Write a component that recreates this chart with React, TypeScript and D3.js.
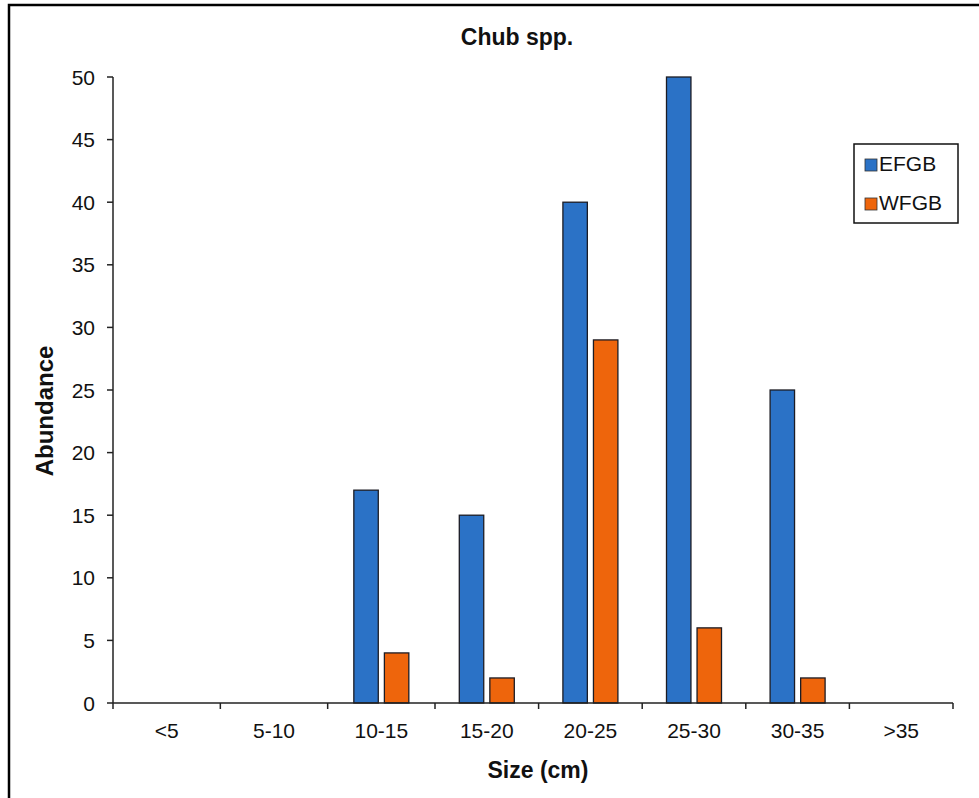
import React from "react";
import * as d3 from "d3";

// Size classes (cm) and abundance counts per bank
const sizeClasses = ["<5", "5-10", "10-15", "15-20", "20-25", "25-30", "30-35", ">35"];
const seriesNames = ["EFGB", "WFGB"];
const efgbCounts = [0, 0, 17, 15, 40, 50, 25, 0];
const wfgbCounts = [0, 0, 4, 2, 29, 6, 2, 0];
const yTicks = [0, 5, 10, 15, 20, 25, 30, 35, 40, 45, 50];

const seriesColors: Record<string, string> = {
  EFGB: "#2b72c6",
  WFGB: "#ee650c",
};

const W = 979;
const H = 798;
const plot = { left: 113, right: 953, top: 77, bottom: 703 };
const FONT = "'Liberation Sans', Arial, sans-serif";

export default function App() {
  // category index -> pixel (class boundaries at integer positions)
  const xIdx = d3.scaleLinear().domain([0, 3, 8]).range([plot.left, 435, plot.right]);
  const center = (i: number) => xIdx(i + 0.5);
  // offset of each series' bar around the class centre
  const x1 = d3.scaleBand<string>().domain(seriesNames).range([-27.5, 27.5]).paddingInner(0.2);
  const y = d3.scaleLinear().domain([0, 50]).range([plot.bottom, plot.top]);

  const rows = sizeClasses.map((c, i) => ({
    cls: c,
    i,
    values: [
      { s: "EFGB", v: efgbCounts[i] },
      { s: "WFGB", v: wfgbCounts[i] },
    ],
  }));

  const boundaries = d3.range(sizeClasses.length + 1).map((i) => xIdx(i));

  return (
    <div style={{ position: "absolute", left: 0, top: 0 }}>
      <svg width={W} height={H} style={{ display: "block", fontFamily: FONT }}>
        <rect x={0} y={0} width={W} height={H} fill="#fff" />
        {/* outer frame */}
        <rect x={9} y={5} width={W + 20} height={H + 20} fill="none" stroke="#000" strokeWidth={2.5} />

        <text x={517} y={45} textAnchor="middle" fontSize={23} fontWeight="bold" fill="#111">
          Chub spp.
        </text>

        {/* bars */}
        {rows.map((r) => (
          <g key={r.cls} transform={`translate(${center(r.i)},0)`}>
            {r.values
              .filter((d) => d.v > 0)
              .map((d) => (
                <rect
                  key={d.s}
                  x={x1(d.s)!}
                  y={y(d.v)}
                  width={x1.bandwidth()}
                  height={y(0) - y(d.v)}
                  fill={seriesColors[d.s]}
                  stroke="#1c1c24"
                  strokeWidth={1.3}
                />
              ))}
          </g>
        ))}

        {/* y axis */}
        <line x1={plot.left} x2={plot.left} y1={plot.top} y2={plot.bottom} stroke="#222" strokeWidth={1.5} />
        {yTicks.map((t) => (
          <g key={t}>
            <line x1={plot.left - 6} x2={plot.left} y1={y(t)} y2={y(t)} stroke="#222" strokeWidth={1.5} />
            <text x={plot.left - 18} y={y(t)} dy="0.36em" textAnchor="end" fontSize={21} fill="#111">
              {t}
            </text>
          </g>
        ))}

        {/* x axis */}
        <line x1={plot.left} x2={plot.right} y1={plot.bottom} y2={plot.bottom} stroke="#222" strokeWidth={1.5} />
        {boundaries.map((b, i) => (
          <line key={i} x1={b} x2={b} y1={plot.bottom} y2={plot.bottom + 6} stroke="#222" strokeWidth={1.5} />
        ))}
        {sizeClasses.map((c, i) => (
          <text key={c} x={center(i)} y={738} textAnchor="middle" fontSize={21} fill="#111">
            {c}
          </text>
        ))}

        <text x={538} y={778} textAnchor="middle" fontSize={23} fontWeight="bold" fill="#111">
          Size (cm)
        </text>
        <text
          transform={`translate(53,411) rotate(-90)`}
          textAnchor="middle"
          fontSize={24}
          fontWeight="bold"
          fill="#111"
        >
          Abundance
        </text>

        {/* legend */}
        <rect x={854} y={144} width={104} height={79} fill="#fff" stroke="#111" strokeWidth={1.5} />
        {seriesNames.map((s, i) => (
          <g key={s} transform={`translate(865,${159 + i * 39})`}>
            <rect x={0} y={0} width={12} height={12} fill={seriesColors[s]} stroke="#333" strokeWidth={0.8} />
            <text x={14} y={12} fontSize={21} fill="#111">
              {s}
            </text>
          </g>
        ))}
      </svg>
    </div>
  );
}
